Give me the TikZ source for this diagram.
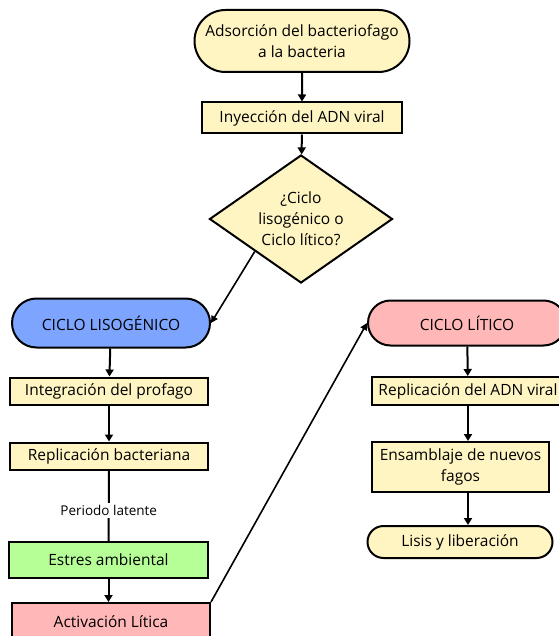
\documentclass[tikz,border=0pt]{standalone}
\usepackage{fontspec}
\setmainfont{Open Sans}
\usetikzlibrary{shapes.geometric,shapes.misc,arrows.meta}

\definecolor{amarillo}{RGB}{255,245,195}
\definecolor{azul}{RGB}{125,165,255}
\definecolor{verde}{RGB}{182,255,150}
\definecolor{rosa}{RGB}{255,183,183}

\tikzset{
  caja/.style={draw, line width=2pt, fill=amarillo, inner sep=0pt, align=center},
  terminal/.style={caja, rounded rectangle},
  decision/.style={caja, diamond, aspect=1.43, minimum width=183pt, minimum height=128pt},
  flecha/.style={line width=2pt, -{Triangle[width=8pt,length=7pt]}},
  diag/.style={line width=1.6pt, -{Triangle[width=7pt,length=7pt]}}
}

\begin{document}
\begin{tikzpicture}[x=1pt, y=-1pt, font=\fontsize{15.5}{21}\selectfont]
\useasboundingbox (0,0) rectangle (558,636);

% Inicio
\node[terminal, minimum width=215pt, minimum height=62pt] (inicio) at (302,41) {Adsorción del bacteriofago\\a la bacteria};
\node[caja, minimum width=200pt, minimum height=31pt] (inyeccion) at (302,118) {Inyección del ADN viral};
\node[decision] (pregunta) at (301,219) {¿Ciclo\\lisogénico o\\Ciclo lítico?};

% Ciclo lisogénico
\node[terminal, fill=azul, minimum width=198pt, minimum height=49pt] (liso) at (111,323) {CICLO LISOGÉNICO};
\node[caja, minimum width=198pt, minimum height=27pt] (integracion) at (109,391) {Integración del profago};
\node[caja, minimum width=198pt, minimum height=27pt] (repbac) at (109,456) {Replicación bacteriana};
\node[caja, fill=verde, minimum width=199pt, minimum height=36pt] (estres) at (108.5,560) {Estres ambiental};
\node[caja, fill=rosa, minimum width=198pt, minimum height=38pt] (activacion) at (111,622) {Activación Lítica};

% Ciclo lítico
\node[terminal, fill=rosa, minimum width=198pt, minimum height=45pt] (litico) at (467,323) {CICLO LÍTICO};
\node[caja, minimum width=192pt, minimum height=28pt] (repadn) at (468,391) {Replicación del ADN viral};
\node[caja, minimum width=177pt, minimum height=50pt] (ensamblaje) at (460.5,467) {Ensamblaje de nuevos\\fagos};
\node[terminal, minimum width=185pt, minimum height=32pt] (lisis) at (460,542) {Lisis y liberación};

% Flechas
\draw[flecha] (inicio) -- (inyeccion);
\draw[flecha] (inyeccion) -- (pregunta);
\draw[diag] (pregunta.south west) -- (liso.east);
\draw[flecha] (liso) -- (integracion);
\draw[flecha] (integracion) -- (repbac);
\draw[line width=2pt] (repbac) -- (estres)
  node[pos=0.57, fill=white, inner sep=2pt, font=\fontsize{13.5}{16}\selectfont] (latente) {Periodo latente};
\draw[flecha] (estres) -- (estres |- activacion.north);
\draw[diag] (activacion.north east) -- (litico.west);
\draw[flecha] (litico) -- (repadn);
\draw[flecha] (repadn) -- (repadn |- ensamblaje.north);
\draw[flecha] (repadn |- ensamblaje.south) -- (repadn |- lisis.north);

\end{tikzpicture}
\end{document}
